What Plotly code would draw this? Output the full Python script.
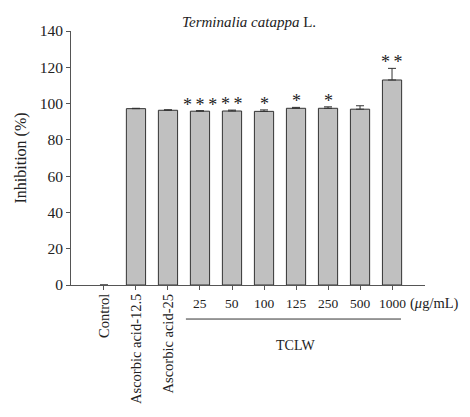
import plotly.graph_objects as go

categories = ["Control", "Ascorbic acid-12.5", "Ascorbic acid-25",
              "25", "50", "100", "125", "250", "500", "1000"]
values = [0, 97.2, 96.3, 95.8, 95.9, 95.7, 97.4, 97.4, 96.9, 113.0]
errors = [None, 0.2, 0.3, 0.3, 0.5, 0.8, 0.5, 0.8, 1.9, 6.4]
stars = ["", "", "", "***", "**", "*", "*", "*", "", "**"]
rotated_labels = ["Control", "Ascorbic acid-12.5", "Ascorbic acid-25"]
dose_labels = ["25", "50", "100", "125", "250", "500", "1000"]

FONT = "Liberation Serif, Times New Roman, serif"
TXT = "#222222"
idx = list(range(len(categories)))
line_w = [0 if v == 0 else 1 for v in values]
bar_col = ["rgba(0,0,0,0)" if v == 0 else "#c0c0c0" for v in values]

fig = go.Figure()
fig.add_trace(go.Bar(
    x=idx, y=values, width=0.6,
    marker=dict(color=bar_col, line=dict(color="#333333", width=line_w)),
    error_y=dict(type="data", symmetric=False, array=errors,
                 arrayminus=[0 if e is not None else None for e in errors],
                 color="#333333", thickness=1, width=4),
    hoverinfo="skip",
))

ann = []
# significance stars
for i, s in enumerate(stars):
    if s:
        ann.append(dict(x=i, y=values[i] + (errors[i] or 0), xref="x", yref="y",
                        text="\u2009".join(s), showarrow=False,
                        yanchor="bottom", yshift=-6,
                        font=dict(family=FONT, size=18, color=TXT)))
# rotated category labels
for i, lab in enumerate(rotated_labels):
    ann.append(dict(x=i, y=0, xref="x", yref="paper", text=lab,
                    textangle=-90, showarrow=False, xanchor="center",
                    yanchor="top", yshift=-7,
                    font=dict(family=FONT, size=14.5, color=TXT)))
# dose labels
for j, lab in enumerate(dose_labels):
    ann.append(dict(x=3 + j, y=0, xref="x", yref="paper", text=lab,
                    showarrow=False, xanchor="center", yanchor="middle",
                    yshift=-18, font=dict(family=FONT, size=13.5, color=TXT)))
ann.append(dict(x=9.5, y=0, xref="x", yref="paper", text="(<i>μ</i>g/mL)",
                showarrow=False, xanchor="left", yanchor="middle", yshift=-18,
                font=dict(family=FONT, size=14.5, color=TXT)))
ann.append(dict(x=5.98, y=0, xref="x", yref="paper", text="TCLW",
                showarrow=False, xanchor="center", yanchor="middle", yshift=-60,
                font=dict(family=FONT, size=14, color=TXT)))

fig.update_layout(
    width=470, height=417,
    margin=dict(l=63, r=53, t=23, b=140, autoexpand=False),
    paper_bgcolor="white", plot_bgcolor="white",
    showlegend=False, bargap=0.4,
    title=dict(text="<i>Terminalia catappa</i> L.", x=0.513, xanchor="center",
               y=1 - 14 / 417, yanchor="middle",
               font=dict(family=FONT, size=15, color=TXT)),
    font=dict(family=FONT, color=TXT),
    annotations=ann,
    shapes=[dict(type="line", xref="x", yref="paper", x0=2.56, x1=9.28,
                 y0=-0.134, y1=-0.134, line=dict(color="#333333", width=1))],
    xaxis=dict(range=[-1.03, 10.03], showticklabels=False, tickmode="array",
               tickvals=idx, ticks="outside", ticklen=4, tickcolor="#555555",
               showline=True, linecolor="#555555", linewidth=1,
               showgrid=False, zeroline=False, fixedrange=True),
    yaxis=dict(range=[0, 140], tickvals=[0, 20, 40, 60, 80, 100, 120, 140],
               ticks="outside", ticklen=4, tickcolor="#555555",
               showline=True, linecolor="#555555", linewidth=1,
               showgrid=False, zeroline=False, automargin=False,
               tickfont=dict(family=FONT, size=15.5, color=TXT),
               title=dict(text="Inhibition (%)", standoff=9,
                          font=dict(family=FONT, size=16, color=TXT))),
)

fig.write_html("out.html")
